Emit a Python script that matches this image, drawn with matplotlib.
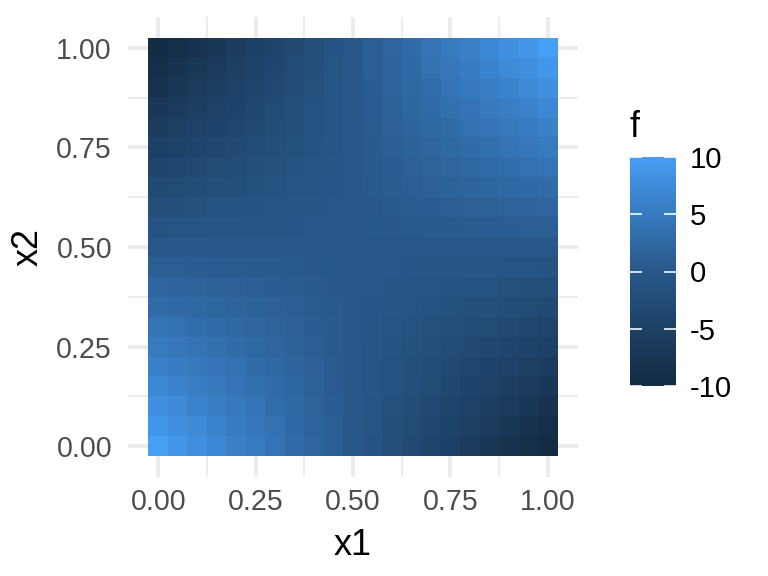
import numpy as np
import matplotlib
matplotlib.use('Agg')
from matplotlib import pyplot as plt
from matplotlib.colors import ListedColormap

plt.rcParams['font.family'] = ['Liberation Sans', 'DejaVu Sans']
plt.rcParams['axes.unicode_minus'] = False

# tile centres
x1 = [0.00, 0.05, 0.10, 0.15, 0.20, 0.25, 0.30, 0.35, 0.40, 0.45, 0.50,
      0.55, 0.60, 0.65, 0.70, 0.75, 0.80, 0.85, 0.90, 0.95, 1.00]
x2 = [0.00, 0.05, 0.10, 0.15, 0.20, 0.25, 0.30, 0.35, 0.40, 0.45, 0.50,
      0.55, 0.60, 0.65, 0.70, 0.75, 0.80, 0.85, 0.90, 0.95, 1.00]

# f values, one row per x2 (bottom to top), columns along x1
f = [
    [10, 9, 8, 7, 6, 5, 4, 3, 2, 1, 0, -1, -2, -3, -4, -5, -6, -7, -8, -9, -10],
    [9, 8.1, 7.2, 6.3, 5.4, 4.5, 3.6, 2.7, 1.8, 0.9, 0, -0.9, -1.8, -2.7, -3.6, -4.5, -5.4, -6.3, -7.2, -8.1, -9],
    [8, 7.2, 6.4, 5.6, 4.8, 4, 3.2, 2.4, 1.6, 0.8, 0, -0.8, -1.6, -2.4, -3.2, -4, -4.8, -5.6, -6.4, -7.2, -8],
    [7, 6.3, 5.6, 4.9, 4.2, 3.5, 2.8, 2.1, 1.4, 0.7, 0, -0.7, -1.4, -2.1, -2.8, -3.5, -4.2, -4.9, -5.6, -6.3, -7],
    [6, 5.4, 4.8, 4.2, 3.6, 3, 2.4, 1.8, 1.2, 0.6, 0, -0.6, -1.2, -1.8, -2.4, -3, -3.6, -4.2, -4.8, -5.4, -6],
    [5, 4.5, 4, 3.5, 3, 2.5, 2, 1.5, 1, 0.5, 0, -0.5, -1, -1.5, -2, -2.5, -3, -3.5, -4, -4.5, -5],
    [4, 3.6, 3.2, 2.8, 2.4, 2, 1.6, 1.2, 0.8, 0.4, 0, -0.4, -0.8, -1.2, -1.6, -2, -2.4, -2.8, -3.2, -3.6, -4],
    [3, 2.7, 2.4, 2.1, 1.8, 1.5, 1.2, 0.9, 0.6, 0.3, 0, -0.3, -0.6, -0.9, -1.2, -1.5, -1.8, -2.1, -2.4, -2.7, -3],
    [2, 1.8, 1.6, 1.4, 1.2, 1, 0.8, 0.6, 0.4, 0.2, 0, -0.2, -0.4, -0.6, -0.8, -1, -1.2, -1.4, -1.6, -1.8, -2],
    [1, 0.9, 0.8, 0.7, 0.6, 0.5, 0.4, 0.3, 0.2, 0.1, 0, -0.1, -0.2, -0.3, -0.4, -0.5, -0.6, -0.7, -0.8, -0.9, -1],
    [0, 0, 0, 0, 0, 0, 0, 0, 0, 0, 0, 0, 0, 0, 0, 0, 0, 0, 0, 0, 0],
    [-1, -0.9, -0.8, -0.7, -0.6, -0.5, -0.4, -0.3, -0.2, -0.1, 0, 0.1, 0.2, 0.3, 0.4, 0.5, 0.6, 0.7, 0.8, 0.9, 1],
    [-2, -1.8, -1.6, -1.4, -1.2, -1, -0.8, -0.6, -0.4, -0.2, 0, 0.2, 0.4, 0.6, 0.8, 1, 1.2, 1.4, 1.6, 1.8, 2],
    [-3, -2.7, -2.4, -2.1, -1.8, -1.5, -1.2, -0.9, -0.6, -0.3, 0, 0.3, 0.6, 0.9, 1.2, 1.5, 1.8, 2.1, 2.4, 2.7, 3],
    [-4, -3.6, -3.2, -2.8, -2.4, -2, -1.6, -1.2, -0.8, -0.4, 0, 0.4, 0.8, 1.2, 1.6, 2, 2.4, 2.8, 3.2, 3.6, 4],
    [-5, -4.5, -4, -3.5, -3, -2.5, -2, -1.5, -1, -0.5, 0, 0.5, 1, 1.5, 2, 2.5, 3, 3.5, 4, 4.5, 5],
    [-6, -5.4, -4.8, -4.2, -3.6, -3, -2.4, -1.8, -1.2, -0.6, 0, 0.6, 1.2, 1.8, 2.4, 3, 3.6, 4.2, 4.8, 5.4, 6],
    [-7, -6.3, -5.6, -4.9, -4.2, -3.5, -2.8, -2.1, -1.4, -0.7, 0, 0.7, 1.4, 2.1, 2.8, 3.5, 4.2, 4.9, 5.6, 6.3, 7],
    [-8, -7.2, -6.4, -5.6, -4.8, -4, -3.2, -2.4, -1.6, -0.8, 0, 0.8, 1.6, 2.4, 3.2, 4, 4.8, 5.6, 6.4, 7.2, 8],
    [-9, -8.1, -7.2, -6.3, -5.4, -4.5, -3.6, -2.7, -1.8, -0.9, 0, 0.9, 1.8, 2.7, 3.6, 4.5, 5.4, 6.3, 7.2, 8.1, 9],
    [-10, -9, -8, -7, -6, -5, -4, -3, -2, -1, 0, 1, 2, 3, 4, 5, 6, 7, 8, 9, 10],
]
f_breaks = [-10, -5, 0, 5, 10]
axis_ticks = [0.00, 0.25, 0.50, 0.75, 1.00]


# colour stops, blended in CIELAB
def srgb_to_lab(rgb):
    c = np.asarray(rgb, dtype=float)
    lin = np.where(c <= 0.04045, c / 12.92, ((c + 0.055) / 1.055) ** 2.4)
    m = np.array([[0.4124, 0.3576, 0.1805],
                  [0.2126, 0.7152, 0.0722],
                  [0.0193, 0.1192, 0.9505]])
    xyz = m @ lin / np.array([0.95047, 1.0, 1.08883])
    d = 6 / 29
    fx = np.where(xyz > d ** 3, np.cbrt(xyz), xyz / (3 * d * d) + 4 / 29)
    return np.array([116 * fx[1] - 16, 500 * (fx[0] - fx[1]), 200 * (fx[1] - fx[2])])


def lab_to_srgb(lab):
    L, a, b = lab
    fy = (L + 16) / 116
    fx = fy + a / 500
    fz = fy - b / 200
    d = 6 / 29
    t = np.array([fx, fy, fz])
    xyz = np.where(t > d, t ** 3, 3 * d * d * (t - 4 / 29)) * np.array([0.95047, 1.0, 1.08883])
    minv = np.array([[3.2406, -1.5372, -0.4986],
                     [-0.9689, 1.8758, 0.0415],
                     [0.0557, -0.2040, 1.0570]])
    lin = minv @ xyz
    c = np.where(lin <= 0.0031308, 12.92 * lin, 1.055 * np.clip(lin, 0, None) ** (1 / 2.4) - 0.055)
    return np.clip(c, 0, 1)


stops = [srgb_to_lab(matplotlib.colors.to_rgb(c)) for c in ['#132B43', '#28588A', '#469EF5']]
cols = []
for t in np.linspace(0, 1, 256):
    if t <= 0.5:
        lab = stops[0] + (stops[1] - stops[0]) * (t / 0.5)
    else:
        lab = stops[1] + (stops[2] - stops[1]) * ((t - 0.5) / 0.5)
    cols.append(lab_to_srgb(lab))
cmap = ListedColormap(cols)

fig = plt.figure(figsize=(8, 6), dpi=96)
ax = fig.add_axes([128 / 768, 99 / 576, 450 / 768, 460 / 576])

half = (x1[1] - x1[0]) / 2
xe = np.append(np.array(x1) - half, x1[-1] + half)
ye = np.append(np.array(x2) - half, x2[-1] + half)

grid_c = '#EBEBEB'
for t in axis_ticks:
    ax.axvline(t, color=grid_c, lw=2.8, zorder=0)
    ax.axhline(t, color=grid_c, lw=2.8, zorder=0)
for t in [0.125, 0.375, 0.625, 0.875]:
    ax.axvline(t, color=grid_c, lw=1.4, zorder=0)
    ax.axhline(t, color=grid_c, lw=1.4, zorder=0)

mesh = ax.pcolormesh(xe, ye, np.array(f), cmap=cmap, vmin=-10, vmax=10,
                     shading='flat', zorder=1)

ax.set_xlim(-0.0775, 1.0775)
ax.set_ylim(-0.0775, 1.0775)
for s in ax.spines.values():
    s.set_visible(False)
ax.set_xticks(axis_ticks)
ax.set_yticks(axis_ticks)
ax.set_xticklabels(['%.2f' % t for t in axis_ticks])
ax.set_yticklabels(['%.2f' % t for t in axis_ticks])
ax.tick_params(length=0, labelsize=21.5, labelcolor='#4D4D4D')
ax.tick_params(axis='x', pad=8)
ax.tick_params(axis='y', pad=12)
ax.set_xlabel('x1', fontsize=27, labelpad=9)
ax.set_ylabel('x2', fontsize=27, labelpad=8)

cax = fig.add_axes([630 / 768, 190 / 576, 46 / 768, 229 / 576])
cb = fig.colorbar(mesh, cax=cax, ticks=f_breaks)
cb.outline.set_visible(False)
cax.tick_params(which='both', direction='in', color='white', length=9, width=1.2,
                left=True, right=True, labelsize=22, pad=10.5)
cax.set_yticklabels([str(b) for b in f_breaks])
fig.text(630 / 768, 1 - 137 / 576, 'f', fontsize=27, ha='left', va='baseline')

plt.savefig('out.png', dpi=96)
